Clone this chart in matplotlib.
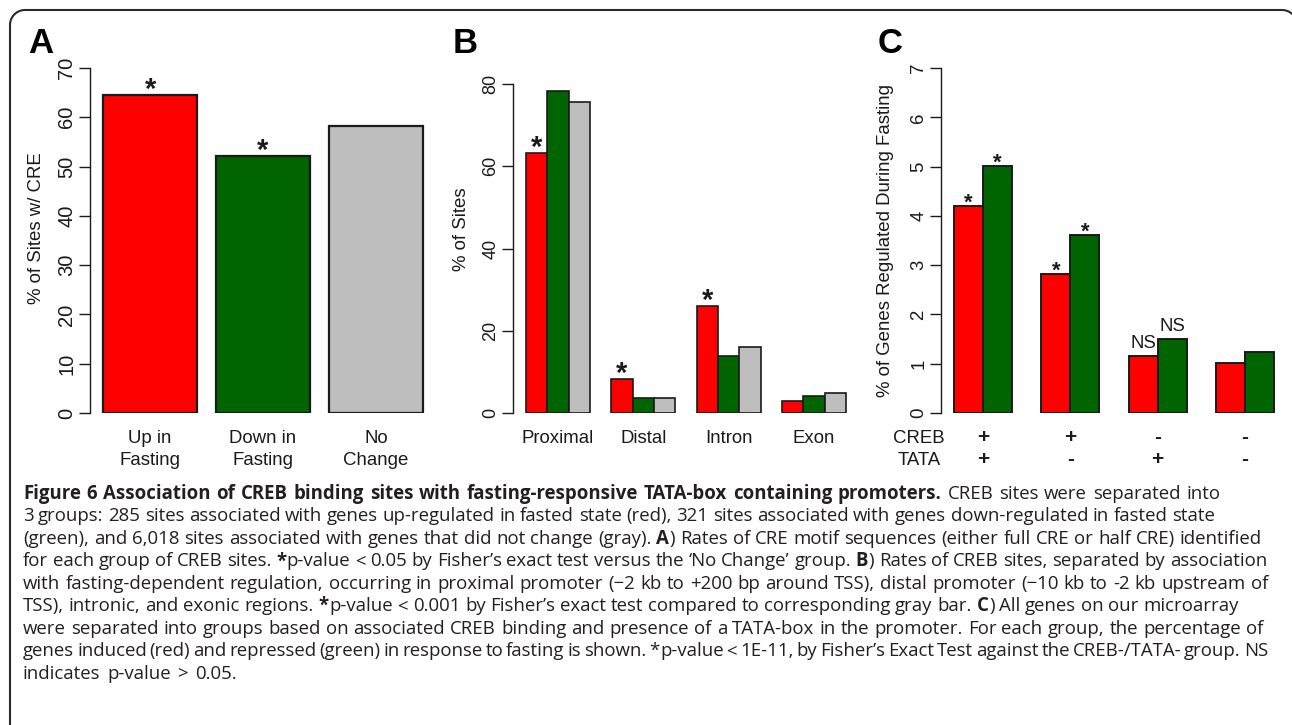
import numpy as np
import matplotlib
matplotlib.use('Agg')
import matplotlib.pyplot as plt

plt.rc('font', family=['Liberation Sans', 'DejaVu Sans'])

W, H = 1292, 725
RED, GREEN, GRAY = '#ff0000', '#006400', '#bebebe'
INK = '#1a1a1a'
CAP_INK = '#231f20'

# --- panel A
a_groups = ['Up in\nFasting', 'Down in\nFasting', 'No\nChange']
a_values = [64.6, 52.1, 58.3]
a_colors = [RED, GREEN, GRAY]
a_stars = ['*', '*', '']
a_ticks = [0, 10, 20, 30, 40, 50, 60, 70]

# --- panel B
b_groups = ['Proximal', 'Distal', 'Intron', 'Exon']
b_up = [63.2, 8.2, 26.0, 2.8]
b_down = [78.3, 3.7, 13.9, 4.1]
b_nochange = [75.6, 3.6, 16.1, 4.8]
b_stars = ['*', '*', '*', '']
b_ticks = [0, 20, 40, 60, 80]

# --- panel C
c_creb = ['+', '+', '-', '-']
c_tata = ['+', '-', '+', '-']
c_induced = [4.20, 2.83, 1.16, 1.01]
c_repressed = [5.02, 3.62, 1.51, 1.24]
c_mark_induced = ['*', '*', 'NS', '']
c_mark_repressed = ['*', '*', 'NS', '']
c_ticks = [0, 1, 2, 3, 4, 5, 6, 7]

caption = [
    [("Figure 6 Association of CREB binding sites with fasting-responsive TATA-box containing promoters.", True),
     (" CREB sites were separated into", False)],
    [("3 groups: 285 sites associated with genes up-regulated in fasted state (red), 321 sites associated with genes down-regulated in fasted state", False)],
    [("(green), and 6,018 sites associated with genes that did not change (gray).", False), (" A", True),
     (") Rates of CRE motif sequences (either full CRE or half CRE) identified", False)],
    [("for each group of CREB sites.", False), (" *", True),
     ("p-value < 0.05 by Fisher\u2019s exact test versus the \u2018No Change\u2019 group.", False), (" B", True),
     (") Rates of CREB sites, separated by association", False)],
    [("with fasting-dependent regulation, occurring in proximal promoter (\u22122 kb to +200 bp around TSS), distal promoter (\u221210 kb to -2 kb upstream of", False)],
    [("TSS), intronic, and exonic regions.", False), (" *", True),
     ("p-value < 0.001 by Fisher\u2019s exact test compared to corresponding gray bar.", False), (" C", True),
     (") All genes on our microarray", False)],
    [("were separated into groups based on associated CREB binding and presence of a TATA-box in the promoter. For each group, the percentage of", False)],
    [("genes induced (red) and repressed (green) in response to fasting is shown.", False), (" *", False),
     ("p-value < 1E-11, by Fisher\u2019s Exact Test against the CREB-/TATA- group. NS", False)],
    [("indicates p-value > 0.05.", False)],
]
# right edge of each caption line in the reference (None = ragged last line)
cap_right = [1220, 1215, 1262, 1267, 1268, 1239, 1263, 1268, None]

fig = plt.figure(figsize=(W / 100, H / 100), dpi=100)
fig.patch.set_facecolor('white')

# full-figure overlay in pixel units, used for the rounded frame
ax0 = fig.add_axes([0, 0, 1, 1])
ax0.set_xlim(0, W)
ax0.set_ylim(H, 0)
ax0.axis('off')
r = 15
t1 = np.linspace(np.pi, 1.5 * np.pi, 20)
t2 = np.linspace(1.5 * np.pi, 2 * np.pi, 20)
fx = np.concatenate([[10], 10 + r + r * np.cos(t1), 1297 - r + r * np.cos(t2), [1297]])
fy = np.concatenate([[H + 20], 10 + r + r * np.sin(t1), 10 + r + r * np.sin(t2), [H + 20]])
ax0.plot(fx, fy, color='#2a2a2a', lw=1.5, solid_capstyle='butt', clip_on=False)


def px_axes(left, top, right, bottom):
    return fig.add_axes([left / W, 1 - bottom / H, (right - left) / W, (bottom - top) / H])


def px_text(x, y, s, **kw):
    return fig.text(x / W, 1 - y / H, s, **kw)


def r_style(ax, ticks, tick_size):
    ax.patch.set_visible(False)
    for side in ['top', 'right', 'bottom']:
        ax.spines[side].set_visible(False)
    ax.spines['left'].set_bounds(ticks[0], ticks[-1])
    ax.spines['left'].set_linewidth(1.0)
    ax.spines['left'].set_color(INK)
    ax.set_xticks([])
    ax.set_yticks(ticks)
    ax.set_yticklabels([str(t) for t in ticks], rotation=90, va='center')
    ax.tick_params(axis='y', length=8, width=1.0, color=INK, pad=2,
                   labelsize=tick_size, labelcolor=INK)


def under(ax, x, s, dy, size=13.4, **kw):
    ax.annotate(s, xy=(x, 0), xycoords=ax.get_xaxis_transform(),
                xytext=(0, -dy), textcoords='offset pixels',
                ha='center', va='baseline', fontsize=size, color=INK,
                annotation_clip=False, **kw)


def mark(ax, x, y, s, size, dy):
    if not s:
        return
    ax.annotate(s, xy=(x, y), xytext=(0, dy), textcoords='offset pixels',
                ha='center', va='baseline', fontsize=size, color=INK,
                fontweight='bold' if s == '*' else 'normal',
                annotation_clip=False)


# ---------------- A
axA = px_axes(90.2, 68, 435.8, 413)
xa = 0.7 + 1.2 * np.arange(len(a_values))
axA.bar(xa, a_values, width=1.0, color=a_colors, edgecolor=INK, linewidth=1.6)
axA.set_xlim(0.064, 3.736)
axA.set_ylim(0, 70)
r_style(axA, a_ticks, 14.5)
for x, v, s in zip(xa, a_values, a_stars):
    mark(axA, x, v, s, 21, -3)
for x, g in zip(xa, a_groups):
    l1, l2 = g.split('\n')
    under(axA, x, l1, 30)
    under(axA, x, l2, 52)
px_text(37, 228, '% of Sites w/ CRE', rotation=90, ha='center', va='center', fontsize=13.4, color=INK)

# ---------------- B
axB = px_axes(513.2, 84, 858.8, 413)
gb = np.arange(len(b_groups)) * 4
for k, (vals, col) in enumerate([(b_up, RED), (b_down, GREEN), (b_nochange, GRAY)]):
    axB.bar(gb + 1 + k, vals, width=1.0, align='edge', color=col, edgecolor=INK, linewidth=1.2)
axB.set_xlim(0.4, 16.6)
axB.set_ylim(0, 80)
r_style(axB, b_ticks, 13)
for g, v, s in zip(gb, b_up, b_stars):
    mark(axB, g + 1.5, v, s, 21, -3)
for g, name in zip(gb, b_groups):
    under(axB, g + 2.5, name, 30)
px_text(462, 229.5, '% of Sites', rotation=90, ha='center', va='center', fontsize=13.4, color=INK)

# ---------------- C
axC = px_axes(941.2, 68, 1286.8, 413)
gc = np.arange(len(c_induced)) * 3
axC.bar(gc + 1, c_induced, width=1.0, align='edge', color=RED, edgecolor=INK, linewidth=1.4)
axC.bar(gc + 2, c_repressed, width=1.0, align='edge', color=GREEN, edgecolor=INK, linewidth=1.4)
axC.set_xlim(0.56, 12.44)
axC.set_ylim(0, 7)
r_style(axC, c_ticks, 13.4)
for g, v, s in zip(gc, c_induced, c_mark_induced):
    mark(axC, g + 1.5, v, s, 16 if s == '*' else 13.4, -3 if s == '*' else 8)
for g, v, s in zip(gc, c_repressed, c_mark_repressed):
    mark(axC, g + 2.5, v, s, 16 if s == '*' else 13.4, -3 if s == '*' else 8)
for g, cr, ta in zip(gc, c_creb, c_tata):
    under(axC, g + 2, cr, 30, size=15, fontweight='bold')
    under(axC, g + 2, ta, 52, size=15, fontweight='bold')
axC.annotate('CREB', xy=(0, 0), xycoords='axes fraction', xytext=(-22, -30),
             textcoords='offset pixels', ha='center', va='baseline', fontsize=13.4, color=INK,
             annotation_clip=False)
axC.annotate('TATA', xy=(0, 0), xycoords='axes fraction', xytext=(-22, -52),
             textcoords='offset pixels', ha='center', va='baseline', fontsize=13.4, color=INK,
             annotation_clip=False)
px_text(885, 240.5, '% of Genes Regulated During Fasting', rotation=90, ha='center', va='center',
        fontsize=13.4, color=INK)

# panel letters
for x, letter in zip([28, 453, 878], ['A', 'B', 'C']):
    px_text(x, 53, letter, fontsize=25, fontweight='bold', ha='left', va='baseline', color='black')

# ---------------- caption (words spread to the reference line ends)
renderer = fig.canvas.get_renderer()
cap_family = ['Open Sans', 'DejaVu Sans']
MIN_GAP = 0.15  # tightest allowed word gap, in em


def build_words(size):
    lines = []
    for runs in caption:
        words = []
        for txt, bold in runs:
            for j, part in enumerate(txt.split(' ')):
                if not part:
                    continue
                t = px_text(0, 0, part, fontsize=size, family=cap_family,
                            fontweight='bold' if bold else 'normal', ha='left', va='baseline', color=CAP_INK)
                w = t.get_window_extent(renderer).width
                if j == 0 and words:
                    words[-1].append((t, w))
                else:
                    words.append([(t, w)])
        lines.append(words)
    return lines


# largest size at which every line still fits with at least MIN_GAP spaces
trial = build_words(11)
ratios = []
for words, right in zip(trial, cap_right):
    for wd in words:
        for t, _ in wd:
            t.remove()
    if right is None:
        continue
    ink = sum(w for wd in words for _, w in wd)
    ratios.append((right - 23) / (ink + MIN_GAP * 11 * 100 / 72 * (len(words) - 1)))
cap_size = 11 * min(ratios)
natural_gap = 0.36 * cap_size * 100 / 72

for i, words in enumerate(build_words(cap_size)):
    y = 499 + 22.45 * i
    widths = [sum(w for _, w in wd) + 0.5 * (len(wd) - 1) for wd in words]
    if cap_right[i] is None:
        gap = natural_gap
    else:
        gap = (cap_right[i] - 23 - sum(widths)) / (len(words) - 1)
    x = 23
    for wd, ww in zip(words, widths):
        xx = x
        for t, w in wd:
            t.set_position((xx / W, 1 - y / H))
            xx += w + 0.5
        x += ww + gap

fig.savefig('out.png', dpi=100, facecolor='white')
